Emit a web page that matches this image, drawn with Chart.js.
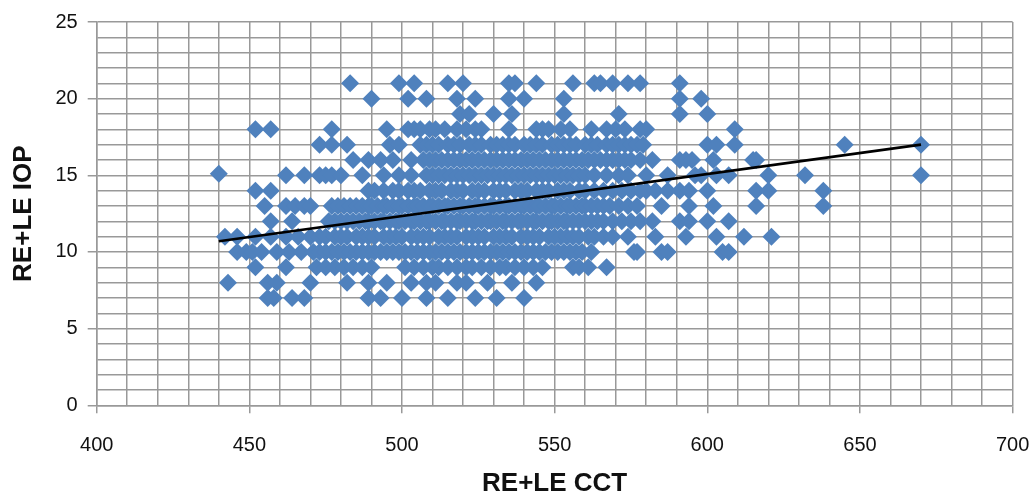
<!DOCTYPE html>
<html>
<head>
<meta charset="utf-8">
<title>RE+LE CCT vs IOP</title>
<script src="https://cdn.jsdelivr.net/npm/chart.js@4/dist/chart.umd.min.js"></script>
<style>
html, body { margin: 0; padding: 0; background: #fff; }
canvas { display: block; }
</style>
</head>
<body>
<canvas id="grafico" width="1029" height="497"></canvas>
<script>
// CCT readings per IOP level
var cct21 = [483, 499, 504, 515, 520, 535, 537, 544, 556, 563, 565, 569, 574, 578, 591];
var cct20 = [490, 502, 508, 518, 524, 535, 540, 553, 591, 598];
var cct19 = [519, 522, 530, 536, 553, 571, 591, 600];
var cct18 = [452, 457, 477, 495, 502, 504, 506, 509, 511, 514, 518, 521, 524, 526, 535, 544, 546, 548, 552, 555, 562, 567, 570, 573, 578, 580, 609];
var cct17 = [473, 477, 482, 496, 499, 506, 508, 510, 512, 515, 517, 519, 522, 524, 526, 529, 531, 533, 535, 537, 540, 542, 544, 546, 549, 551, 553, 555, 557, 560, 562, 564, 567, 569, 571, 573, 575, 577, 579, 600, 603, 609, 645, 670];
var cct16 = [484, 489, 493, 497, 503, 507, 509, 511, 513, 515, 517, 519, 521, 523, 525, 527, 529, 531, 533, 535, 537, 539, 541, 543, 545, 547, 549, 551, 553, 555, 557, 559, 561, 563, 565, 567, 569, 571, 573, 575, 578, 582, 591, 593, 595, 602, 615, 616];
var cct15 = [462, 468, 473, 475, 477, 480, 487, 494, 499, 503, 508, 510, 512, 514, 516, 518, 520, 522, 524, 526, 528, 530, 532, 534, 536, 538, 540, 542, 544, 546, 548, 550, 552, 554, 556, 558, 560, 563, 567, 571, 574, 580, 587, 596, 598, 603, 607, 620, 632, 670];
var cct14 = [452, 457, 489, 491, 494, 497, 499, 502, 504, 506, 509, 511, 513, 516, 518, 520, 523, 525, 527, 530, 532, 534, 537, 539, 541, 544, 546, 548, 551, 553, 555, 558, 560, 563, 566, 569, 572, 575, 578, 580, 583, 587, 591, 594, 600, 616, 620, 638];
var cct13 = [455, 462, 465, 468, 470, 477, 479, 481, 483, 485, 487, 489, 490, 492, 494, 495, 497, 499, 500, 502, 504, 505, 507, 509, 510, 512, 514, 515, 517, 519, 520, 522, 524, 525, 527, 529, 530, 532, 534, 535, 537, 539, 540, 542, 544, 545, 547, 549, 550, 552, 554, 555, 557, 559, 560, 562, 564, 566, 568, 571, 574, 577, 585, 594, 602, 616, 638];
var cct12 = [457, 464, 476, 478, 480, 482, 484, 486, 488, 489, 491, 493, 494, 496, 498, 499, 501, 503, 504, 506, 508, 509, 511, 513, 514, 516, 518, 519, 521, 523, 524, 526, 528, 529, 531, 533, 534, 536, 538, 539, 541, 543, 544, 546, 548, 549, 551, 553, 554, 556, 558, 560, 562, 564, 566, 569, 572, 575, 578, 582, 591, 594, 600, 607];
var cct11 = [442, 446, 452, 457, 462, 466, 470, 473, 475, 478, 480, 482, 485, 487, 489, 491, 494, 496, 498, 500, 503, 505, 507, 509, 512, 514, 516, 518, 521, 523, 525, 527, 530, 532, 534, 536, 539, 541, 543, 545, 548, 550, 552, 554, 556, 558, 561, 563, 566, 569, 574, 583, 593, 603, 612, 621];
var cct10 = [446, 449, 451, 454, 459, 463, 467, 471, 473, 475, 477, 479, 481, 483, 485, 487, 489, 491, 493, 495, 497, 499, 501, 503, 505, 507, 509, 511, 513, 515, 517, 519, 521, 523, 525, 527, 529, 531, 533, 535, 537, 539, 541, 543, 545, 547, 549, 551, 553, 555, 557, 559, 562, 576, 577, 585, 587, 605, 607];
var cct9 = [452, 462, 472, 475, 478, 481, 484, 487, 490, 501, 504, 507, 510, 512, 515, 518, 521, 523, 526, 529, 532, 534, 537, 540, 543, 546, 556, 558, 561, 567];
var cct8 = [443, 456, 459, 470, 482, 489, 495, 503, 508, 511, 518, 521, 528, 536, 544];
var cct7 = [456, 458, 464, 468, 489, 493, 500, 508, 515, 524, 531, 540];
var cctOutlier = [440];
var iopOutlier = [15.1];

var filas = [cct21, cct20, cct19, cct18, cct17, cct16, cct15, cct14, cct13, cct12, cct11, cct10, cct9, cct8, cct7];
var niveles = [21, 20, 19, 18, 17, 16, 15, 14, 13, 12, 11, 10, 9, 8, 7];

var trendX = [440, 670];
var trendY = [10.7, 17];

var xTicks = [400, 450, 500, 550, 600, 650, 700];
var yTicks = [0, 5, 10, 15, 20, 25];

var puntos = [];
for (var i = 0; i < filas.length; i++) {
    for (var j = 0; j < filas[i].length; j++) {
        puntos.push({ x: filas[i][j], y: niveles[i] });
    }
}
for (var k = 0; k < cctOutlier.length; k++) {
    puntos.push({ x: cctOutlier[k], y: iopOutlier[k] });
}

var colorGrid = '#999999';
var fuenteTicks = { family: '"Liberation Sans", Arial, sans-serif', size: 20 };
var fuenteTitulo = { family: '"Liberation Sans", Arial, sans-serif', size: 26, weight: 'bold', lineHeight: 1 };

var ctx = document.getElementById('grafico').getContext('2d');
var grafico = new Chart(ctx, {
    type: 'scatter',
    data: {
        datasets: [{
            label: 'Tendencia',
            data: [{ x: trendX[0], y: trendY[0] }, { x: trendX[1], y: trendY[1] }],
            showLine: true,
            borderColor: '#000000',
            borderWidth: 2.6,
            pointRadius: 0,
            order: 0
        }, {
            label: 'RE+LE IOP',
            data: puntos,
            pointStyle: 'rectRot',
            pointRadius: 9,
            pointBackgroundColor: '#4F81BD',
            pointBorderWidth: 0,
            order: 1
        }]
    },
    options: {
        responsive: false,
        animation: false,
        layout: { padding: { top: 21, right: 16.4, left: 11, bottom: 0 } },
        plugins: { legend: { display: false }, tooltip: { enabled: false } },
        scales: {
            x: {
                type: 'linear',
                min: 400,
                max: 700,
                afterFit: function (scale) {
                    scale.height = 91.7;
                    scale.paddingLeft = 0;
                    scale.paddingRight = 0;
                },
                grid: {
                    color: colorGrid,
                    lineWidth: 1.5,
                    tickLength: 8,
                    tickColor: function (c) {
                        return xTicks.indexOf(c.tick.value) >= 0 ? colorGrid : 'rgba(0,0,0,0)';
                    }
                },
                border: { color: colorGrid, width: 1.5 },
                ticks: {
                    stepSize: 10,
                    autoSkip: false,
                    maxRotation: 0,
                    padding: 20,
                    color: '#111111',
                    font: fuenteTicks,
                    callback: function (v) { return xTicks.indexOf(v) >= 0 ? String(v) : ''; }
                },
                title: {
                    display: true,
                    text: 'RE+LE CCT',
                    color: '#111111',
                    font: fuenteTitulo,
                    padding: { top: 0, bottom: 0 }
                }
            },
            y: {
                type: 'linear',
                min: 0,
                max: 25,
                afterFit: function (scale) { scale.width = 85.7; },
                grid: {
                    color: colorGrid,
                    lineWidth: 1.5,
                    tickLength: 9,
                    tickColor: function (c) {
                        return yTicks.indexOf(c.tick.value) >= 0 ? colorGrid : 'rgba(0,0,0,0)';
                    }
                },
                border: { color: colorGrid, width: 1.5 },
                ticks: {
                    stepSize: 1,
                    autoSkip: false,
                    padding: 10,
                    color: '#111111',
                    font: fuenteTicks,
                    callback: function (v) { return yTicks.indexOf(v) >= 0 ? String(v) : ''; }
                },
                title: {
                    display: true,
                    text: 'RE+LE IOP',
                    color: '#111111',
                    font: fuenteTitulo,
                    padding: { top: 0, bottom: 0 }
                }
            }
        }
    }
});
</script>
</body>
</html>
